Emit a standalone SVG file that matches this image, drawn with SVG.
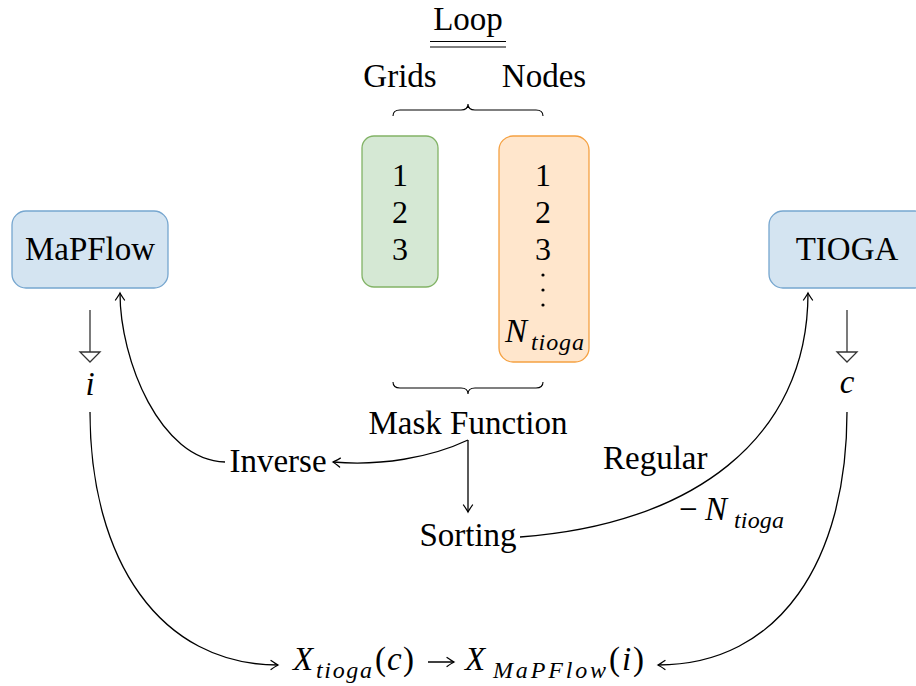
<svg xmlns="http://www.w3.org/2000/svg" width="916" height="686" viewBox="0 0 916 686" font-family="Liberation Serif, DejaVu Serif, Noto Serif, Times New Roman, serif">
  <style>
    text { fill: #000; }
    .lbl { font-size: 33px; }
    .num { font-size: 32px; text-anchor: middle; }
    .mid { text-anchor: middle; }
    .it { font-style: italic; }
    .sub { font-size: 24px; font-style: italic; }
    .edge { fill: none; stroke: #000; stroke-width: 1.3; }
    .brace { fill: none; stroke: #000; stroke-width: 1.1; }
    .blue { fill: #d4e4f1; stroke: #76a6cf; stroke-width: 1.3; }
    .green { fill: #d5e8d4; stroke: #82b366; stroke-width: 1.3; }
    .orange { fill: #ffe6cc; stroke: #f5a142; stroke-width: 1.3; }
    .stem { stroke: #333; stroke-width: 1.3; }
    .hollow { fill: #fff; stroke: #333; stroke-width: 1.3; }
  </style>
  <defs>
    <marker id="arr" markerUnits="userSpaceOnUse" markerWidth="14" markerHeight="14" viewBox="-10 -7 14 14" refX="0" refY="0" orient="auto">
      <path d="M-7,-4.5 Q-2,-1 0,0 Q-2,1 -7,4.5" fill="none" stroke="#000" stroke-width="1.3" stroke-linecap="round"/>
    </marker>
  </defs>

  <!-- heading -->
  <g id="loop">
    <text class="lbl mid" x="468" y="30">Loop</text>
    <line x1="430" y1="41.5" x2="506" y2="41.5" stroke="#000" stroke-width="1.2"/>
    <line x1="430" y1="47" x2="506" y2="47" stroke="#000" stroke-width="1.2"/>
  </g>
  <g id="grids-label"><text class="lbl mid" x="400" y="87">Grids</text></g>
  <g id="nodes-label"><text class="lbl mid" x="544" y="87">Nodes</text></g>

  <!-- braces -->
  <g id="braces">
    <path class="brace" d="M393,116 Q393,110 400,110 L461,110 Q468,110 468,104 Q468,110 475,110 L536,110 Q543,110 543,116"/>
    <path class="brace" d="M393,382 Q393,388 400,388 L461,388 Q468,388 468,394 Q468,388 475,388 L536,388 Q543,388 543,382"/>
  </g>

  <!-- grid indices -->
  <g id="grids">
    <rect class="green" x="362" y="136" width="76" height="151" rx="12"/>
    <text class="num" x="400" y="186">1</text>
    <text class="num" x="400" y="223">2</text>
    <text class="num" x="400" y="260">3</text>
  </g>

  <!-- node indices -->
  <g id="nodes">
    <rect class="orange" x="499" y="136" width="90" height="226" rx="14"/>
    <text class="num" x="543" y="186">1</text>
    <text class="num" x="543" y="223">2</text>
    <text class="num" x="543" y="260">3</text>
    <circle cx="543" cy="275" r="1.6"/>
    <circle cx="543" cy="290" r="1.6"/>
    <circle cx="543" cy="305" r="1.6"/>
    <text class="lbl it" x="505" y="342">N</text>
    <text class="sub" x="531" y="350" textLength="53" lengthAdjust="spacing">tioga</text>
  </g>

  <!-- solvers -->
  <g id="mapflow">
    <rect class="blue" x="12" y="211" width="156" height="77" rx="14"/>
    <text class="lbl mid" x="90" y="260">MaPFlow</text>
  </g>
  <g id="tioga">
    <rect class="blue" x="769" y="211" width="160" height="77" rx="14"/>
    <text class="lbl mid" x="847" y="260">TIOGA</text>
  </g>

  <!-- index outputs -->
  <g id="i-out">
    <line class="stem" x1="90" y1="310" x2="90" y2="352"/>
    <path class="hollow" d="M80,352 L100,352 L90,362 Z"/>
    <text class="lbl it mid" x="90" y="395">i</text>
  </g>
  <g id="c-out">
    <line class="stem" x1="847" y1="310" x2="847" y2="352"/>
    <path class="hollow" d="M837,352 L857,352 L847,362 Z"/>
    <text class="lbl it mid" x="847" y="393">c</text>
  </g>

  <g id="mask"><text class="lbl mid" x="468" y="434">Mask Function</text></g>
  <g id="inverse"><text class="lbl mid" x="278" y="472">Inverse</text></g>
  <g id="sorting"><text class="lbl mid" x="468" y="546">Sorting</text></g>
  <g id="regular-label"><text class="lbl" x="603" y="469">Regular</text></g>
  <g id="offset-label">
    <text class="lbl" x="679" y="520">−</text>
    <text class="lbl it" x="705" y="520">N</text>
    <text class="sub" x="734" y="528" textLength="50" lengthAdjust="spacing">tioga</text>
  </g>

  <!-- mapping formula -->
  <g id="formula">
    <text class="lbl it" x="293" y="670">X</text>
    <text class="sub" x="316" y="678" textLength="56" lengthAdjust="spacing">tioga</text>
    <text class="lbl" x="375" y="670">(</text>
    <text class="lbl it" x="387" y="670">c</text>
    <text class="lbl" x="403" y="670">)</text>
    <line x1="428" y1="662" x2="454" y2="662" stroke="#000" stroke-width="1.5" marker-end="url(#arr)"/>
    <text class="lbl it" x="465" y="670">X</text>
    <text class="sub" x="493" y="678" textLength="113" lengthAdjust="spacing">MaPFlow</text>
    <text class="lbl" x="609" y="670">(</text>
    <text class="lbl it" x="622" y="670">i</text>
    <text class="lbl" x="633" y="670">)</text>
  </g>

  <!-- connectors -->
  <g id="connectors">
    <path class="edge" d="M468,440 C430,458 380,466 333,462" marker-end="url(#arr)"/>
    <path class="edge" d="M468,440 L468,512" marker-end="url(#arr)"/>
    <path class="edge" d="M225,462 C160,460 120,360 120,293" marker-end="url(#arr)"/>
    <path class="edge" d="M520,537 C690,525 808,440 808,293" marker-end="url(#arr)"/>
    <path class="edge" d="M90,412 C90,560 160,665 278,665" marker-end="url(#arr)"/>
    <path class="edge" d="M847,412 C847,560 780,665 658,665" marker-end="url(#arr)"/>
  </g>
</svg>
